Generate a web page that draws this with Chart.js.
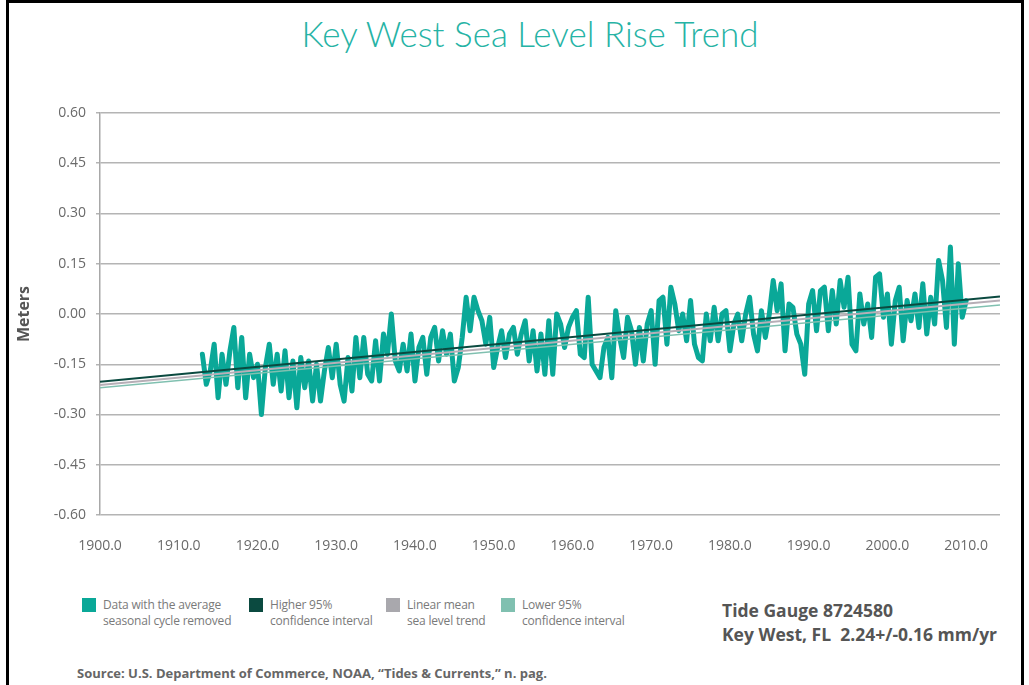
<!DOCTYPE html>
<html>
<head>
<meta charset="utf-8">
<script src="https://cdn.jsdelivr.net/npm/chart.js@4.4.1/dist/chart.umd.min.js"></script>
<style>
  html, body { margin: 0; padding: 0; background: #fff; }
  body { width: 1029px; height: 685px; position: relative; overflow: hidden; font-family: "Open Sans", sans-serif; }
  #frame { position: absolute; left: 6px; top: 0; width: 1018px; height: 700px; border: 3px solid #000; box-sizing: border-box; }
  #wrap { position: absolute; left: 0; top: 0; width: 1029px; height: 565px; }
  .title { position: absolute; left: 0; width: 1060px; top: 11px; text-align: center; font-family: Lato, "Open Sans", sans-serif; font-weight: 300; font-size: 35px; line-height: 44px; color: #26b3a5; }
  .leg { position: absolute; top: 597px; font-family: "Open Sans", sans-serif; font-size: 12px; line-height: 16px; color: #7a7a7a; letter-spacing: -0.2px; }
  .leg span.sw { position: absolute; left: -21px; top: 1px; width: 14px; height: 14px; }
  .gauge { position: absolute; left: 722px; top: 598px; font-family: "Open Sans", sans-serif; font-weight: bold; font-size: 17.5px; line-height: 24px; color: #555; white-space: pre; }
  .src { position: absolute; left: 77px; top: 664px; font-family: "Open Sans", sans-serif; font-weight: bold; font-size: 13px; color: #666; }
</style>
</head>
<body>
<div id="frame"></div>
<div class="title">Key West Sea Level Rise Trend</div>
<div id="wrap"><canvas id="chartSea"></canvas></div>
<div id="legend"></div>
<div class="gauge">Tide Gauge 8724580
Key West, FL  2.24+/-0.16 mm/yr</div>
<div class="src">Source: U.S. Department of Commerce, NOAA, “Tides &amp; Currents,” n. pag.</div>
<script>
// half-year readings, 1913.0 .. 2010.0
const startYear = 1913;
const stepYears = 0.5;
const seaLevel = [
  -0.12, -0.21, -0.17, -0.09, -0.25, -0.12, -0.21, -0.11, -0.04, -0.22,
  -0.07, -0.25, -0.12, -0.19, -0.15, -0.30, -0.16, -0.09, -0.21, -0.12,
  -0.23, -0.11, -0.25, -0.14, -0.28, -0.13, -0.22, -0.14, -0.26, -0.15,
  -0.26, -0.17, -0.10, -0.19, -0.09, -0.21, -0.26, -0.13, -0.23, -0.07,
  -0.19, -0.07, -0.18, -0.20, -0.08, -0.20, -0.06, -0.12, 0.00, -0.14,
  -0.17, -0.09, -0.17, -0.06, -0.20, -0.10, -0.07, -0.18, -0.07, -0.04,
  -0.14, -0.05, -0.12, -0.06, -0.20, -0.16, -0.07, 0.05, -0.05, 0.05,
  0.01, -0.02, -0.09, -0.01, -0.16, -0.10, -0.05, -0.13, -0.06, -0.04,
  -0.12, -0.06, -0.02, -0.14, -0.05, -0.17, -0.06, -0.18, -0.02, -0.18,
  0.00, -0.03, -0.10, -0.04, -0.01, 0.01, -0.12, -0.13, 0.05, -0.15,
  -0.17, -0.19, -0.10, -0.07, -0.19, 0.01, -0.07, -0.13, -0.01, -0.05,
  -0.15, -0.04, -0.14, -0.03, 0.01, -0.15, 0.04, 0.05, -0.09, 0.08,
  0.03, -0.05, 0.00, -0.08, 0.04, -0.09, -0.13, -0.14, 0.00, -0.08,
  0.02, -0.08, 0.00, 0.01, -0.11, -0.03, 0.00, -0.08, 0.00, 0.05,
  -0.06, -0.11, 0.01, -0.07, 0.00, 0.10, 0.01, 0.09, -0.11, 0.03,
  0.02, -0.06, -0.09, -0.18, 0.03, 0.07, -0.05, 0.07, 0.08, -0.05,
  0.07, -0.03, 0.10, 0.02, 0.11, -0.09, -0.11, 0.06, -0.03, 0.03,
  -0.07, 0.11, 0.12, -0.01, 0.06, -0.09, 0.04, 0.08, -0.08, 0.04,
  -0.02, 0.06, -0.04, 0.09, -0.06, 0.05, -0.03, 0.16, 0.10, -0.04,
  0.20, -0.09, 0.15, -0.01, 0.04
];

// trend lines, value at each end year
const trendYears = [1900, 2014.3];
const trendHigher = [-0.202, 0.052];
const trendMean = [-0.212, 0.040];
const trendLower = [-0.220, 0.027];

const xTicks = [1900, 1910, 1920, 1930, 1940, 1950, 1960, 1970, 1980, 1990, 2000, 2010];
const yTicks = [-0.60, -0.45, -0.30, -0.15, 0.00, 0.15, 0.30, 0.45, 0.60];

const legendItems = [
  ['Data with the average', 'seasonal cycle removed'],
  ['Higher 95%', 'confidence interval'],
  ['Linear mean', 'sea level trend'],
  ['Lower 95%', 'confidence interval']
];
const legendX = [103, 270, 407, 522];
const colors = ['#0aa898', '#0b4a40', '#a9a8ad', '#80c0b0'];

function seaPoints() {
  return seaLevel.map((v, i) => ({ x: startYear + i * stepYears, y: v }));
}
function trendPoints(vals) {
  return vals.map((v, i) => ({ x: trendYears[i], y: v }));
}

function buildLegend() {
  const box = document.getElementById('legend');
  legendItems.forEach((lines, i) => {
    const d = document.createElement('div');
    d.className = 'leg';
    d.style.left = legendX[i] + 'px';
    d.innerHTML = '<span class="sw" style="background:' + colors[i] + '"></span>' + lines.join('<br>');
    box.appendChild(d);
  });
}

function initChart() {
  const ctx = document.getElementById('chartSea');
  new Chart(ctx, {
    type: 'line',
    data: {
      datasets: [
        { label: 'Higher 95% confidence interval', data: trendPoints(trendHigher), borderColor: colors[1], borderWidth: 2, pointRadius: 0, order: 0 },
        { label: 'Linear mean sea level trend', data: trendPoints(trendMean), borderColor: '#b6aeb6', borderWidth: 2, pointRadius: 0, order: 1 },
        { label: 'Lower 95% confidence interval', data: trendPoints(trendLower), borderColor: colors[3], borderWidth: 1.5, pointRadius: 0, order: 2 },
        { label: 'Data with the average seasonal cycle removed', data: seaPoints(), borderColor: colors[0], borderWidth: 5, borderJoinStyle: 'round', borderCapStyle: 'round', pointRadius: 0, order: 3 }
      ]
    },
    options: {
      responsive: true,
      maintainAspectRatio: false,
      animation: false,
      layout: { padding: { left: 0, right: 29, top: 113, bottom: 0 } },
      plugins: {
        legend: { display: false },
        tooltip: { enabled: false }
      },
      scales: {
        x: {
          type: 'linear',
          min: 1900,
          max: 2014.3,
          afterBuildTicks: s => { s.ticks = xTicks.map(v => ({ value: v })); },
          afterFit: s => { s.height = 50; },
          grid: { display: false },
          border: { display: false },
          ticks: {
            padding: 15,
            color: '#6a6a6a',
            font: { family: '"Open Sans", sans-serif', size: 14 },
            callback: v => Number(v).toFixed(1)
          }
        },
        y: {
          min: -0.6,
          max: 0.6,
          afterBuildTicks: s => { s.ticks = yTicks.map(v => ({ value: v })); },
          afterFit: s => { s.width = 100; },
          grid: { color: '#b4b4b4', lineWidth: 1.5, tickLength: 4 },
          border: { display: true, color: '#a8a8a8', width: 1.5 },
          ticks: {
            padding: 10,
            color: '#6a6a6a',
            font: { family: '"Open Sans", sans-serif', size: 14 },
            callback: v => Number(v).toFixed(2)
          },
          title: {
            display: true,
            text: 'Meters',
            color: '#555',
            font: { family: '"Open Sans", sans-serif', size: 16, weight: 'bold' },
            padding: { top: 15, bottom: 0 }
          }
        }
      }
    }
  });
}

buildLegend();
initChart();
</script>
</body>
</html>
